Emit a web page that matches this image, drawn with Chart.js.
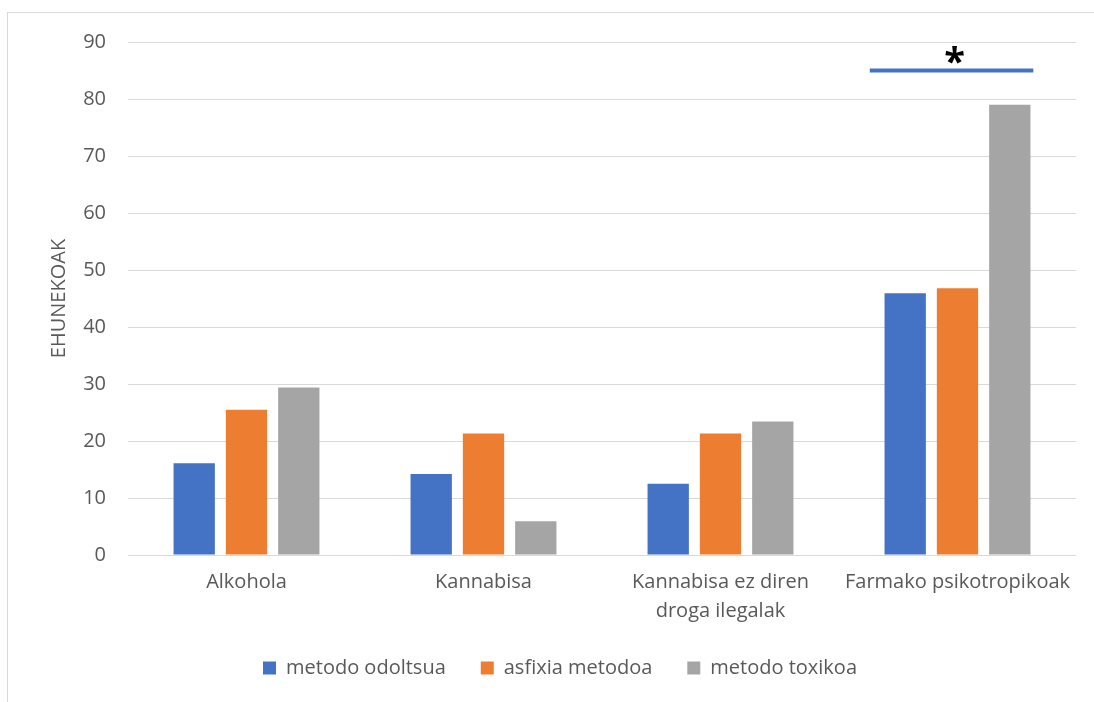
<!DOCTYPE html>
<html>
<head>
<meta charset="utf-8">
<script src="https://cdn.jsdelivr.net/npm/chart.js@4"></script>
<style>
    html, body { margin: 0; padding: 0; background: #ffffff; overflow: hidden; }
    .frame {
        position: absolute; left: 7px; top: 12px;
        width: 1200px; height: 800px;
        border: 1px solid #d9d9d9;
    }
    #chart { position: absolute; left: 0; top: 0; }
</style>
</head>
<body>
<div class="frame"></div>
<canvas id="chart" width="1094" height="702"></canvas>
<script>
// Categories and series (percentages)
const categories = ['Alkohola', 'Kannabisa', ['Kannabisa ez diren', 'droga ilegalak'], 'Farmako psikotropikoak'];
const seriesNames = ['metodo odoltsua', 'asfixia metodoa', 'metodo toxikoa'];
const odoltsua = [16.1, 14.2, 12.5, 45.9];
const asfixia = [25.5, 21.3, 21.3, 46.8];
const toxikoa = [29.4, 5.9, 23.4, 79.0];
const yTicks = [0, 10, 20, 30, 40, 50, 60, 70, 80, 90];

// Significance mark over one category
const sigCategory = 3;
const sigLevel = 85;
const sigLabel = '*';

const colors = ['#4472C4', '#ED7D31', '#A5A5A5'];
const textColor = '#595959';
const fontFamily = '"Open Sans", "Noto Sans", sans-serif';
const fontSize = 20;

const sigPlugin = {
    id: 'sigPlugin',
    afterDatasetsDraw(chart) {
        const { ctx, scales: { x, y } } = chart;
        const center = x.getPixelForValue(sigCategory);
        const catWidth = (x.right - x.left) / categories.length;
        const yLine = y.getPixelForValue(sigLevel);
        ctx.save();
        ctx.strokeStyle = '#4472C4';
        ctx.lineWidth = 4;
        ctx.beginPath();
        ctx.moveTo(center - catWidth * 0.37, yLine);
        ctx.lineTo(center + catWidth * 0.32, yLine);
        ctx.stroke();
        ctx.fillStyle = '#000000';
        ctx.font = 'bold 38px ' + fontFamily;
        ctx.textAlign = 'center';
        ctx.textBaseline = 'middle';
        ctx.fillText(sigLabel, center - 3, yLine - 6);
        ctx.restore();
    }
};

const ctx = document.getElementById('chart').getContext('2d');
new Chart(ctx, {
    type: 'bar',
    data: {
        labels: categories,
        datasets: [odoltsua, asfixia, toxikoa].map((values, i) => ({
            label: seriesNames[i],
            data: values,
            backgroundColor: colors[i],
            categoryPercentage: 0.662,
            barPercentage: 0.79
        }))
    },
    options: {
        responsive: false,
        animation: false,
        layout: { padding: { top: 42, right: 18, bottom: 14, left: 44 } },
        plugins: {
            legend: {
                position: 'bottom',
                labels: {
                    color: textColor,
                    font: { family: fontFamily, size: fontSize },
                    boxWidth: 13,
                    boxHeight: 13,
                    padding: 35
                }
            },
            tooltip: { enabled: false }
        },
        scales: {
            x: {
                grid: { display: false },
                border: { display: false },
                ticks: {
                    color: textColor,
                    font: { family: fontFamily, size: fontSize, lineHeight: 1.45 },
                    padding: 5,
                    maxRotation: 0
                },
                afterFit(scale) { scale.height = 68; }
            },
            y: {
                min: 0,
                max: 90,
                afterBuildTicks(scale) { scale.ticks = yTicks.map(v => ({ value: v })); },
                grid: { color: '#d9d9d9', lineWidth: 1, drawTicks: false },
                border: { display: false },
                ticks: {
                    color: textColor,
                    font: { family: fontFamily, size: fontSize },
                    padding: 22
                },
                title: {
                    display: true,
                    text: 'EHUNEKOAK',
                    color: textColor,
                    font: { family: fontFamily, size: fontSize },
                    padding: { top: 3, bottom: 0 }
                },
                afterFit(scale) { scale.width = 84; }
            }
        }
    },
    plugins: [sigPlugin]
});
</script>
</body>
</html>
